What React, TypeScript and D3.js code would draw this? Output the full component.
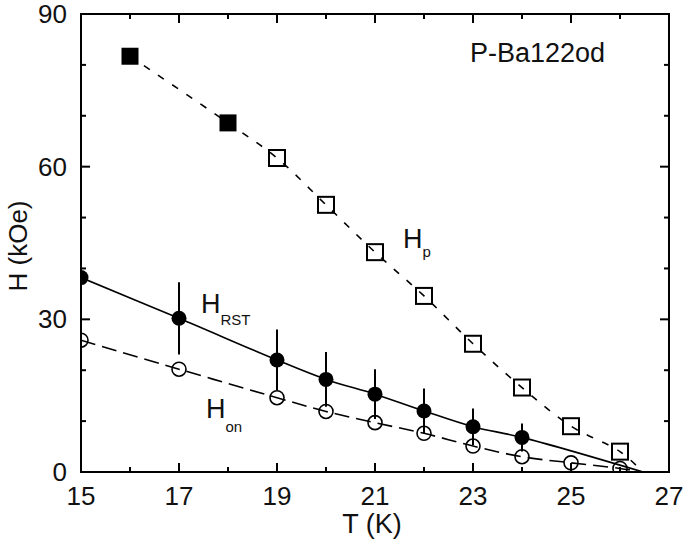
import React from "react";
import * as d3 from "d3";

// ---- data ----
const hpFilledT = [16, 18];
const hpFilledH = [81.7, 68.6];
const hpOpenT = [19, 20, 21, 22, 23, 24, 25, 26];
const hpOpenH = [61.7, 52.5, 43.2, 34.6, 25.2, 16.6, 9.0, 4.0];
const hrstT = [15, 17, 19, 20, 21, 22, 23, 24];
const hrstH = [38.2, 30.2, 22.0, 18.2, 15.3, 12.0, 8.9, 6.8];
const hrstErr = [0, 7.1, 6.0, 5.4, 4.9, 4.4, 3.6, 2.75];
const honT = [15, 17, 19, 20, 21, 22, 23, 24, 25, 26];
const honH = [25.9, 20.2, 14.6, 11.9, 9.7, 7.6, 5.1, 3.0, 1.8, 0.7];
const tcT = 26.47; // where the guide curves meet H = 0
const xTicks = [15, 16, 17, 18, 19, 20, 21, 22, 23, 24, 25, 26, 27];
const xLabels = [15, 17, 19, 21, 23, 25, 27];
const yTicks = [0, 10, 20, 30, 40, 50, 60, 70, 80, 90];
const yLabels = [0, 30, 60, 90];

const W = 685, H = 544;
const M = { left: 81, top: 14, right: 16, bottom: 72 };
const FONT = "Liberation Sans, Arial, sans-serif";

export default function App() {
  const x = d3.scaleLinear().domain([15, 27]).range([M.left, W - M.right]);
  const y = d3.scaleLinear().domain([0, 90]).range([H - M.bottom, M.top]);
  const x0 = M.left, x1 = W - M.right, y0 = H - M.bottom, y1 = M.top;

  const line = d3
    .line<[number, number]>()
    .x((d) => x(d[0]))
    .y((d) => y(d[1]))
    .curve(d3.curveCatmullRom.alpha(0.5));

  const hpPts: [number, number][] = [
    ...hpFilledT.map((t, i) => [t, hpFilledH[i]] as [number, number]),
    ...hpOpenT.map((t, i) => [t, hpOpenH[i]] as [number, number]),
    [tcT, 0],
  ];
  const hrstPts: [number, number][] = [
    ...hrstT.map((t, i) => [t, hrstH[i]] as [number, number]),
    [tcT, 0],
  ];
  const honPts: [number, number][] = [
    ...honT.map((t, i) => [t, honH[i]] as [number, number]),
    [tcT, 0],
  ];

  const isMajorX = (t: number) => xLabels.includes(t);
  const isMajorY = (v: number) => yLabels.includes(v);

  return (
    <svg
      width={W}
      height={H}
      style={{ position: "absolute", left: 0, top: 0, background: "#fff" }}
      fontFamily={FONT}
    >
      <defs>
        <clipPath id="plot">
          <rect x={x0} y={y1} width={x1 - x0} height={y0 - y1} />
        </clipPath>
      </defs>
      <rect x={0} y={0} width={W} height={H} fill="#fff" />

      <g clipPath="url(#plot)">
        {/* curves */}
        <path d={line(hpPts) || ""} fill="none" stroke="#000" strokeWidth={1.6} strokeDasharray="7 10" />
        <path d={line(honPts) || ""} fill="none" stroke="#000" strokeWidth={1.6} strokeDasharray="15 7" />
        <path d={line(hrstPts) || ""} fill="none" stroke="#000" strokeWidth={1.6} />

        {/* error bars */}
        {hrstT.map((t, i) =>
          hrstErr[i] > 0 ? (
            <line
              key={"e" + i}
              x1={x(t)}
              x2={x(t)}
              y1={y(hrstH[i] + hrstErr[i])}
              y2={y(hrstH[i] - hrstErr[i])}
              stroke="#000"
              strokeWidth={2}
            />
          ) : null
        )}

        {/* Hon open circles */}
        {honT.map((t, i) => (
          <circle key={"o" + i} cx={x(t)} cy={y(honH[i])} r={7} fill="none" stroke="#000" strokeWidth={1.6} />
        ))}
        {/* HRST filled circles */}
        {hrstT.map((t, i) => (
          <circle key={"f" + i} cx={x(t)} cy={y(hrstH[i])} r={7.5} fill="#000" />
        ))}
        {/* Hp open squares */}
        {hpOpenT.map((t, i) => (
          <rect key={"s" + i} x={x(t) - 8} y={y(hpOpenH[i]) - 8} width={16} height={16} fill="none" stroke="#000" strokeWidth={2} />
        ))}
        {/* Hp filled squares */}
        {hpFilledT.map((t, i) => (
          <rect key={"q" + i} x={x(t) - 8.5} y={y(hpFilledH[i]) - 8.5} width={17} height={17} fill="#000" />
        ))}
      </g>

      {/* frame */}
      <rect x={x0} y={y1} width={x1 - x0} height={y0 - y1} fill="none" stroke="#000" strokeWidth={2} />

      {/* x ticks (bottom and top, inward) */}
      {xTicks.map((t) => {
        const len = isMajorX(t) ? 9 : 5;
        return (
          <g key={"xt" + t}>
            <line x1={x(t)} x2={x(t)} y1={y0} y2={y0 - len} stroke="#000" strokeWidth={2} />
            <line x1={x(t)} x2={x(t)} y1={y1} y2={y1 + len} stroke="#000" strokeWidth={2} />
          </g>
        );
      })}
      {yTicks.map((v) => {
        const len = isMajorY(v) ? 9 : 5;
        return (
          <g key={"yt" + v}>
            <line x1={x0} x2={x0 + len} y1={y(v)} y2={y(v)} stroke="#000" strokeWidth={2} />
            <line x1={x1} x2={x1 - len} y1={y(v)} y2={y(v)} stroke="#000" strokeWidth={2} />
          </g>
        );
      })}

      {/* tick labels */}
      {xLabels.map((t) => (
        <text key={"xl" + t} x={x(t)} y={505} textAnchor="middle" fontSize={26} fill="#111">
          {t}
        </text>
      ))}
      {yLabels.map((v) => (
        <text key={"yl" + v} x={67} y={y(v) + 9} textAnchor="end" fontSize={26} fill="#111">
          {v}
        </text>
      ))}

      {/* axis titles */}
      <text x={372} y={533} textAnchor="middle" fontSize={27} fill="#111">
        T (K)
      </text>
      <text
        transform={`translate(27,246) rotate(-90)`}
        textAnchor="middle"
        fontSize={26}
        fill="#111"
      >
        H (kOe)
      </text>

      {/* annotations */}
      <text x={470} y={62} fontSize={27} fill="#111">
        P-Ba122od
      </text>
      <text x={403} y={248} fontSize={27} fill="#111">
        H<tspan fontSize={15} dy={9}>p</tspan>
      </text>
      <text x={201} y={313} fontSize={27} fill="#111">
        H<tspan fontSize={15} dy={12}>RST</tspan>
      </text>
      <text x={206} y={418} fontSize={27} fill="#111">
        H<tspan fontSize={15} dy={14}>on</tspan>
      </text>
    </svg>
  );
}
